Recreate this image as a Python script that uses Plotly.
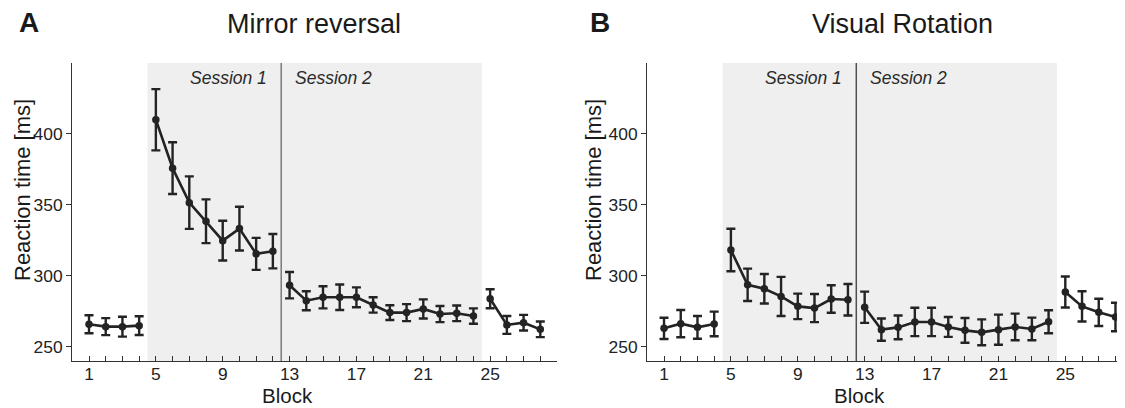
import plotly.graph_objects as go

blocks = list(range(1, 29))

mirror_rt = [265.9, 264.2, 264.2, 264.9,
             410.0, 375.9, 351.6, 338.5, 324.8, 333.3, 315.5, 317.4,
             293.4, 282.5, 284.9, 284.9, 284.9, 279.5, 274.1, 274.1, 276.7, 273.1, 273.6, 271.7,
             283.9, 265.4, 267.0, 262.3]
mirror_err = [6.3, 6.0, 7.0, 6.6,
              21.6, 18.2, 18.5, 15.4, 14.0, 15.4, 11.3, 12.1,
              9.3, 6.7, 7.8, 9.0, 7.0, 5.4, 5.2, 6.0, 6.7, 5.7, 5.5, 5.4,
              6.7, 6.3, 5.5, 5.5]

rotation_rt = [263.0, 266.3, 263.7, 266.1,
               318.2, 293.7, 290.9, 285.5, 278.5, 277.3, 283.7, 283.2,
               277.9, 262.1, 263.7, 267.5, 267.5, 264.0, 261.6, 260.2, 262.1, 264.0, 262.6, 267.7,
               288.6, 278.5, 274.3, 271.0]
rotation_err = [7.5, 9.6, 8.0, 8.7,
                15.0, 11.4, 10.4, 13.8, 9.0, 9.9, 9.7, 11.1,
                11.0, 7.8, 8.4, 10.0, 10.0, 7.0, 8.7, 9.1, 10.6, 9.4, 8.0, 8.1,
                10.9, 10.7, 9.6, 10.0]

segments = [(1, 4), (5, 12), (13, 24), (25, 28)]
major_ticks = [1, 5, 9, 13, 17, 21, 25]
y_ticks = [250, 300, 350, 400]
panel_titles = ["Mirror reversal", "Visual Rotation"]
panel_letters = ["A", "B"]

# the page body has an 8px margin, so the figure is 8px smaller and offset
OFF = 8
W, H = 1125 - OFF, 408 - OFF
FONT = "Liberation Sans, Arial, Helvetica, sans-serif"
DARK = "#232323"

fig = go.Figure()

def px_x(p):
    return (p - OFF) / W

def px_y(p):
    return 1 - (p - OFF) / H

panels = [
    dict(xa="x", ya="y", rt=mirror_rt, err=mirror_err, vline="#7a7a7a"),
    dict(xa="x2", ya="y2", rt=rotation_rt, err=rotation_err, vline="#505050"),
]

for p in panels:
    for (a, b) in segments:
        xs = blocks[a - 1:b]
        ys = p["rt"][a - 1:b]
        es = p["err"][a - 1:b]
        fig.add_trace(go.Scatter(
            x=xs, y=ys, xaxis=p["xa"], yaxis=p["ya"], mode="lines+markers",
            line=dict(color=DARK, width=2.6),
            marker=dict(color=DARK, size=7.5),
            error_y=dict(type="data", array=es, visible=True, color=DARK,
                         thickness=2.4, width=4.5),
            showlegend=False, hoverinfo="x+y"))

ydom = [px_y(361), px_y(63)]
axis_common = dict(showgrid=False, zeroline=False, showline=True, linecolor="#333333",
                   linewidth=1.4, tickfont=dict(family=FONT, size=17.4, color="#222222"),
                   tickcolor="#333333", tickwidth=1.2, ticklen=5, tickmode="array")
minor_ticks = dict(tickvals=blocks, ticks="inside", ticklen=5, tickcolor="#333333", tickwidth=1.2)

fig.update_layout(
    width=W, height=H, margin=dict(l=0, r=0, t=0, b=0),
    paper_bgcolor="white", plot_bgcolor="white",
    xaxis=dict(domain=[px_x(72.3), px_x(557.0)], range=[0, 29], anchor="y",
               tickvals=major_ticks, ticks="inside", minor=minor_ticks,
               ticklabelstandoff=-3, **axis_common),
    yaxis=dict(domain=ydom, range=[240, 450], anchor="x",
               tickvals=y_ticks, ticks="outside", **axis_common),
    xaxis2=dict(domain=[px_x(647.3), 1.0], range=[0, 28.57], anchor="y2",
                tickvals=major_ticks, ticks="inside", minor=minor_ticks,
                ticklabelstandoff=-3, **axis_common),
    yaxis2=dict(domain=ydom, range=[240, 450], anchor="x2",
                tickvals=y_ticks, ticks="outside", **axis_common),
)

for p in panels:
    fig.add_shape(type="rect", xref=p["xa"], yref=p["ya"], x0=4.5, x1=24.5, y0=240, y1=450,
                  fillcolor="#efefef", line=dict(width=0), layer="below")
    fig.add_shape(type="line", xref=p["xa"], yref=p["ya"], x0=12.5, x1=12.5, y0=240, y1=450,
                  line=dict(color=p["vline"], width=1.5), layer="below")
    fig.add_annotation(xref=p["xa"], yref=p["ya"], x=12.5, y=439.5, text="<i>Session 1</i>",
                       showarrow=False, xanchor="right", xshift=-12,
                       font=dict(family=FONT, size=17.5, color="#2a2a2a"))
    fig.add_annotation(xref=p["xa"], yref=p["ya"], x=12.5, y=439.5, text="<i>Session 2</i>",
                       showarrow=False, xanchor="left", xshift=12,
                       font=dict(family=FONT, size=17.5, color="#2a2a2a"))

title_x = [314, 902]
letter_x = [28.5, 600]
block_x = [287.5, 859]
ytitle_x = [22, 593]
for i in range(2):
    fig.add_annotation(xref="paper", yref="paper", x=px_x(title_x[i]), y=px_y(24),
                       text=panel_titles[i], showarrow=False, xanchor="center", yanchor="middle",
                       font=dict(family=FONT, size=27, color="#1a1a1a"))
    fig.add_annotation(xref="paper", yref="paper", x=px_x(letter_x[i]), y=px_y(23),
                       text="<b>" + panel_letters[i] + "</b>", showarrow=False,
                       xanchor="center", yanchor="middle",
                       font=dict(family=FONT, size=28, color="#1a1a1a"))
    fig.add_annotation(xref="paper", yref="paper", x=px_x(block_x[i]), y=0,
                       text="Block", showarrow=False, xanchor="center", yanchor="bottom",
                       borderpad=0,
                       font=dict(family=FONT, size=20.5, color="#1a1a1a"))
    fig.add_annotation(xref="paper", yref="paper", x=px_x(ytitle_x[i]), y=px_y(190),
                       text="Reaction time [ms]", showarrow=False, textangle=-90,
                       xanchor="center", yanchor="middle",
                       font=dict(family=FONT, size=22, color="#1a1a1a"))

fig.write_html("out.html")
